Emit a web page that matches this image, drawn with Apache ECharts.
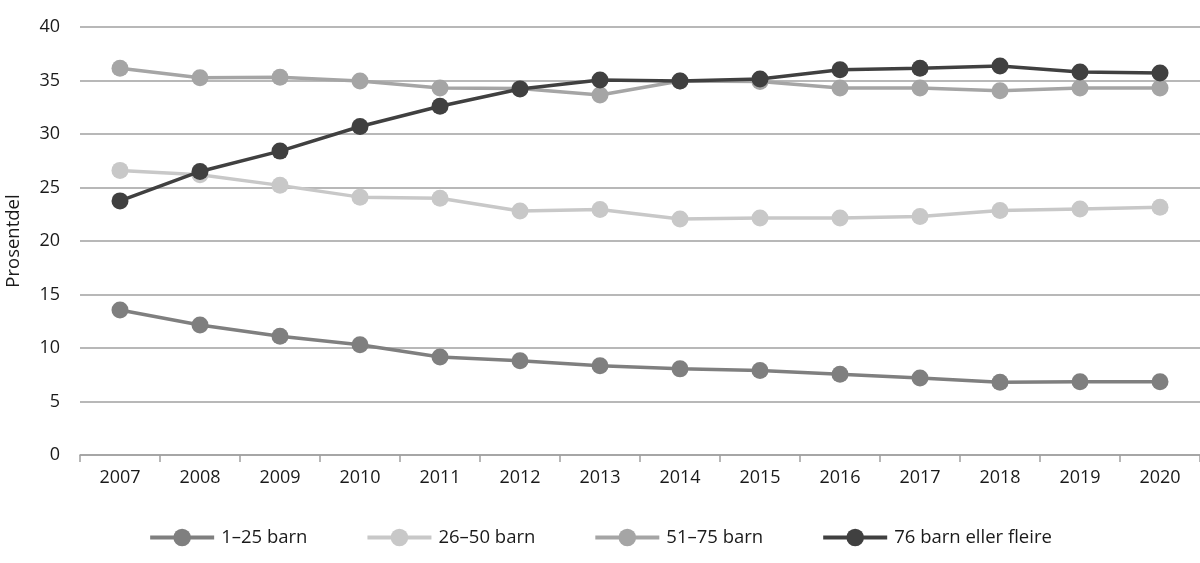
<!DOCTYPE html>
<html><head><meta charset="utf-8">
<script src="https://cdn.jsdelivr.net/npm/echarts@6/dist/echarts.min.js"></script>
<style>html,body{margin:0;padding:0;background:#fff}#c{width:1200px;height:563px}</style>
</head><body><div id="c"></div>
<script>
const years = ['2007','2008','2009','2010','2011','2012','2013','2014','2015','2016','2017','2018','2019','2020'];
const s1_25 = [13.55,12.15,11.1,10.3,9.15,8.8,8.35,8.05,7.9,7.55,7.2,6.8,6.85,6.85];
const s26_50 = [26.6,26.2,25.2,24.1,24.0,22.8,22.95,22.05,22.15,22.15,22.3,22.85,23.0,23.15];
const s51_75 = [36.15,35.25,35.3,34.95,34.3,34.25,33.65,34.95,34.9,34.3,34.3,34.05,34.3,34.3];
const s76 = [23.75,26.5,28.4,30.7,32.6,34.2,35.05,34.95,35.15,36.0,36.15,36.35,35.8,35.7];
const yTicks = [0,5,10,15,20,25,30,35,40];

const font = 'Open Sans';
const chart = echarts.init(document.getElementById('c'), null, {renderer:'canvas'});
function line(name, data, color, z){
  return {name, type:'line', data, z, symbol:'circle', symbolSize:17,
    lineStyle:{color, width:3.5}, itemStyle:{color}, emphasis:{disabled:true}};
}
chart.setOption({
  animation:false,
  textStyle:{fontFamily:font},
  grid:{left:80, right:0, top:27, bottom:108, containLabel:false, outerBoundsMode:'none'},
  legend:{top:523, left:'center', itemGap:58, itemWidth:64, itemHeight:22,
    lineStyle:{width:4},
    textStyle:{fontFamily:font, fontSize:18.5, color:'#1a1a1a', padding:[0,0,0,2]},
    data:['1–25 barn','26–50 barn','51–75 barn','76 barn eller fleire']},
  xAxis:{type:'category', data:years, boundaryGap:true,
    axisLine:{lineStyle:{color:'#a0a0a0', width:1.5}},
    axisTick:{show:true, length:7, lineStyle:{color:'#a0a0a0', width:1.5}},
    axisLabel:{fontFamily:font, fontSize:18, color:'#1a1a1a', margin:14}},
  yAxis:{type:'value', min:0, max:40, interval:5,
    name:'Prosentdel', nameLocation:'middle', nameGap:57, nameRotate:90,
    nameTextStyle:{fontFamily:font, fontSize:18.5, color:'#1a1a1a'},
    axisLine:{show:false}, axisTick:{show:false},
    axisLabel:{fontFamily:font, fontSize:18, color:'#1a1a1a', margin:20,
      formatter:v=>yTicks.includes(v)?String(v):''},
    splitLine:{lineStyle:{color:'#a0a0a0', width:1.5}}},
  series:[
    line('1–25 barn', s1_25, '#7f7f7f', 2),
    line('26–50 barn', s26_50, '#c8c8c8', 3),
    line('51–75 barn', s51_75, '#a5a5a5', 4),
    line('76 barn eller fleire', s76, '#404040', 5)
  ]
});
</script></body></html>
